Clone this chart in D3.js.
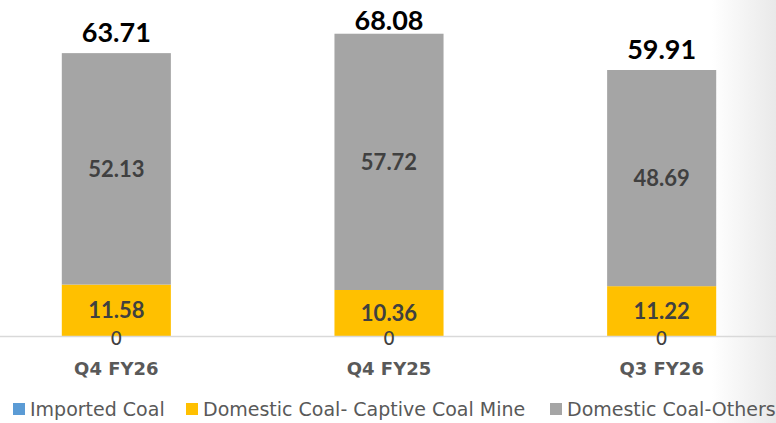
<!DOCTYPE html>
<html>
<head>
<meta charset="utf-8">
<script src="https://cdn.jsdelivr.net/npm/d3@7"></script>
<style>
  body { margin: 0; background: #fff; }
  svg { display: block; }
</style>
</head>
<body>
<div id="chart"></div>
<script>
var categories = ['Q4 FY26', 'Q4 FY25', 'Q3 FY26'];
var seriesNames = ['Imported Coal', 'Domestic Coal- Captive Coal Mine', 'Domestic Coal-Others'];
var importedCoal = [0, 0, 0];
var captiveCoal = [11.58, 10.36, 11.22];
var otherCoal = [52.13, 57.72, 48.69];
var totals = [63.71, 68.08, 59.91];
var colors = ['#5b9bd5', '#ffc000', '#a5a5a5'];

var width = 776, height = 423;
var baseY = 336;
var numFont = 'Lato, "DejaVu Sans", sans-serif';
var textFont = '"DejaVu Sans", Lato, sans-serif';

var svg = d3.select('#chart').append('svg').attr('width', width).attr('height', height);

// faint shading at the right edge of the slide
var grad = svg.append('defs').append('linearGradient').attr('id', 'edge');
grad.append('stop').attr('offset', '0%').attr('stop-color', '#ffffff');
grad.append('stop').attr('offset', '100%').attr('stop-color', '#e9e9e9');
svg.append('rect').attr('x', 712).attr('y', 0).attr('width', 64).attr('height', height).attr('fill', 'url(#edge)');

var x = d3.scaleBand().domain(categories).range([-20, 798]).paddingInner(0.6).paddingOuter(0.3);
var y = d3.scaleLinear().domain([0, 75]).range([baseY, baseY - 75 * 4.44]);

var rows = categories.map(function (c, i) {
    return { cat: c, imported: importedCoal[i], captive: captiveCoal[i], others: otherCoal[i], total: totals[i] };
});
var keys = ['imported', 'captive', 'others'];
var stacked = d3.stack().keys(keys)(rows);

var layers = svg.selectAll('g.layer').data(stacked).enter().append('g')
    .attr('class', 'layer')
    .attr('fill', function (d, i) { return colors[i]; });

layers.selectAll('rect').data(function (d) { return d; }).enter().append('rect')
    .attr('x', function (d) { return x(d.data.cat); })
    .attr('width', x.bandwidth())
    .attr('y', function (d) { return y(d[1]); })
    .attr('height', function (d) { return y(d[0]) - y(d[1]); });

// axis line
svg.append('line').attr('x1', 0).attr('x2', width).attr('y1', baseY + 0.5).attr('y2', baseY + 0.5)
    .attr('stroke', '#d9d9d9').attr('stroke-width', 1.5);

// segment labels, drawn after all bars
var labels = svg.append('g');
stacked.forEach(function (layer, li) {
    labels.selectAll('text.l' + li).data(layer).enter().append('text')
        .attr('class', 'l' + li)
        .attr('x', function (d) { return x(d.data.cat) + x.bandwidth() / 2; })
        .attr('y', function (d) { return (y(d[0]) + y(d[1])) / 2 + (li === 0 ? 2 : 0); })
        .attr('dy', '0.36em')
        .attr('text-anchor', 'middle')
        .attr('font-family', li === 0 ? textFont : numFont)
        .attr('font-size', li === 0 ? 19 : 22)
        .attr('font-weight', li === 0 ? 'normal' : 'bold')
        .attr('fill', '#404040')
        .text(function (d) { return d.data[layer.key]; });
});

// totals
svg.selectAll('text.total').data(rows).enter().append('text')
    .attr('class', 'total')
    .attr('x', function (d) { return x(d.cat) + x.bandwidth() / 2; })
    .attr('y', function (d) { return Math.max(y(d.total) - 11, 30); })
    .attr('text-anchor', 'middle')
    .attr('font-family', numFont)
    .attr('font-size', 27)
    .attr('font-weight', 'bold')
    .attr('fill', '#000')
    .text(function (d) { return d.total.toFixed(2); });

// category axis
var xAxis = svg.append('g').attr('transform', 'translate(0,' + baseY + ')')
    .call(d3.axisBottom(x).tickSize(0).tickPadding(26));
xAxis.select('.domain').remove();
xAxis.selectAll('text')
    .attr('font-family', textFont)
    .attr('font-size', 18)
    .attr('font-weight', 'bold')
    .attr('fill', '#595959');

// legend
var legendX = [13, 186, 550];
var legend = svg.selectAll('g.legend').data(seriesNames).enter().append('g')
    .attr('class', 'legend')
    .attr('transform', function (d, i) { return 'translate(' + legendX[i] + ',403)'; });
legend.append('rect').attr('width', 12).attr('height', 12)
    .attr('fill', function (d, i) { return colors[i]; });
legend.append('text').attr('x', 17).attr('y', 6).attr('dy', '0.36em')
    .attr('font-family', textFont).attr('font-size', 19).attr('fill', '#595959')
    .text(function (d) { return d; });
</script>
</body>
</html>
